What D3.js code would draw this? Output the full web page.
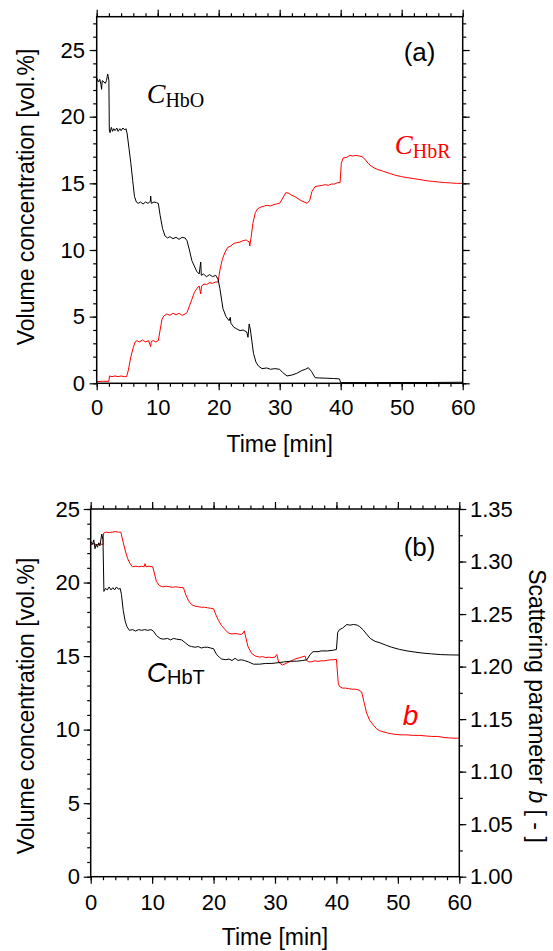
<!DOCTYPE html>
<html>
<head>
<meta charset="utf-8">
<script src="https://cdn.jsdelivr.net/npm/d3@7"></script>
<style>
body { margin: 0; background: #fff; }
text { font-family: "Liberation Sans", Arial, sans-serif; }
text.serif { font-family: "Liberation Serif", "Times New Roman", serif; }
</style>
</head>
<body>
<div id="main"></div>
<script>
// values: [time (min), value]
var cHbO = [[0,22.9],[0.3,22.6],[0.5,22.8],[0.7,22.4],[0.8,22.05],[0.9,22.7],[1.2,22.6],[1.4,22.5],[1.6,22.7],[1.8,23.2],[1.9,23.0],[2.0,22.7],
  [2.07,19.0],[2.2,18.8],[2.4,19.2],[2.6,18.9],[2.8,19.1],[3.0,18.95],[3.3,19.15],[3.5,18.9],[3.8,19.1],[4.0,18.95],[4.3,19.15],[4.6,19.0],[4.8,19.1],
  [5.0,18.7],[5.3,17.6],[5.6,16.5],[5.9,15.2],[6.2,14.0],[6.5,13.6],[6.8,13.5],[7.2,13.6],[7.6,13.45],[8.0,13.6],[8.4,13.5],[8.8,13.65],[8.85,14.05],[8.95,13.5],
  [9.4,13.6],[9.8,13.55],[10.1,13.5],[10.4,12.6],[10.8,11.6],[11.2,11.05],[11.6,10.9],[12.0,11.0],[12.5,10.85],[13.0,10.95],[13.5,10.8],[14.0,10.95],[14.5,10.9],
  [14.8,10.7],[15.2,10.0],[15.6,9.2],[16.0,8.8],[16.4,8.4],[16.8,8.2],[17.05,9.1],[17.15,8.1],[17.5,8.2],[18.0,8.0],[18.5,8.15],[19.0,8.0],[19.5,8.1],[19.9,7.8],
  [20.2,7.1],[20.7,5.6],[21.2,5.0],[21.7,4.7],[21.9,4.95],[22.0,4.5],[22.5,4.2],[22.9,4.1],[23.5,3.95],[24.0,4.0],[24.6,3.85],[24.8,3.45],[25.0,4.45],[25.2,4.0],
  [25.7,2.25],[26.1,1.6],[26.5,1.3],[27.1,1.1],[27.9,1.15],[28.5,1.05],[29.2,1.1],[30.0,1.05],[30.5,0.8],[31.2,0.55],[32.0,0.62],[32.8,0.75],[33.6,0.95],
  [34.2,1.05],[34.7,1.17],[35.2,0.9],[35.8,0.42],[36.5,0.4],[37.7,0.38],[38.8,0.36],[39.8,0.33],[40.0,0.05],[45,0.05],[50,0.06],[55,0.06],[60,0.08]];

var cHbR = [[0,0.12],[1.0,0.15],[2.0,0.15],[2.1,0.55],[2.5,0.5],[3.0,0.55],[3.5,0.5],[4.0,0.55],[4.5,0.5],[4.9,0.5],
  [5.2,1.0],[5.6,2.0],[6.0,2.7],[6.3,3.1],[6.6,3.2],[7.0,3.1],[7.5,3.25],[8.0,3.1],[8.5,3.2],[8.85,2.75],[8.95,3.15],[9.3,3.2],[9.7,3.1],[10.1,3.2],
  [10.4,4.0],[10.7,4.8],[11.0,5.05],[11.5,5.2],[12.0,5.1],[12.5,5.25],[13.0,5.15],[13.5,5.25],[14.0,5.1],[14.5,5.2],[14.8,5.3],
  [15.2,5.8],[15.6,6.3],[16.0,6.8],[16.4,7.1],[16.8,7.3],[17.05,6.7],[17.2,7.3],[17.6,7.45],[18.0,7.4],[18.5,7.55],[19.0,7.5],[19.5,7.6],[19.9,7.6],
  [20.2,8.5],[20.6,9.3],[21.0,9.8],[21.5,10.2],[22.0,10.3],[22.5,10.5],[23.0,10.55],[23.5,10.6],[24.0,10.7],[24.5,10.75],[25.0,10.6],[25.1,10.3],
  [25.3,10.9],[25.6,12.0],[26.0,12.8],[26.4,13.1],[26.8,13.2],[27.5,13.3],[28.0,13.35],[28.5,13.3],[29.0,13.4],[29.5,13.45],[30.0,13.5],
  [30.5,13.9],[31.0,14.3],[31.5,14.25],[32.0,14.1],[32.5,14.0],[33.0,13.85],[33.5,13.7],[34.0,13.6],[34.5,13.5],[34.9,13.7],[35.3,14.4],[35.8,14.75],
  [36.3,14.8],[37.0,14.85],[37.5,14.9],[38.0,14.85],[38.5,14.95],[39.0,14.95],[39.5,15.05],[39.9,15.05],[40.1,16.5],[40.4,16.9],[41.0,16.95],
  [41.5,17.1],[42.0,17.05],[42.5,17.1],[43.0,17.05],[43.5,17.0],[44.0,16.8],[44.5,16.5],[45.0,16.3],[45.5,16.15],[46.0,16.05],[47.0,15.9],
  [48.0,15.75],[49.0,15.6],[50.0,15.5],[51.0,15.42],[52.0,15.35],[53.0,15.28],[54.0,15.2],[55.0,15.15],[56.0,15.1],[57.0,15.06],[58.0,15.03],[59.0,15.0],[60.0,15.0]];

var cHbT = [[0,22.8],[0.3,22.6],[0.5,22.9],[0.7,22.3],[0.9,22.6],[1.1,22.4],[1.3,22.7],[1.5,22.5],[1.8,23.3],[2.0,22.9],
  [2.15,19.4],[2.4,19.6],[2.7,19.5],[3.0,19.7],[3.3,19.5],[3.6,19.65],[3.9,19.5],[4.2,19.7],[4.5,19.55],[4.8,19.6],
  [5.0,19.2],[5.3,18.1],[5.6,17.4],[5.9,17.0],[6.3,16.75],[6.8,16.8],[7.3,16.7],[7.8,16.8],[8.3,16.75],[8.8,16.8],[9.3,16.75],[9.8,16.8],[10.2,16.7],
  [10.7,16.4],[11.3,16.2],[11.8,16.15],[12.5,16.2],[13.0,16.1],[13.5,16.2],[14.0,16.15],[14.8,16.1],[15.4,15.9],[16.0,15.7],[16.4,15.65],
  [17.0,15.6],[17.5,15.65],[18.0,15.55],[18.5,15.6],[19.0,15.6],[19.5,15.55],[20.0,15.5],[20.5,15.1],[21.0,14.9],[21.3,14.8],[22.0,14.75],
  [22.5,14.8],[23.0,14.7],[23.5,14.85],[24.0,14.7],[24.5,14.75],[25.0,14.7],[25.7,14.6],[26.5,14.45],[27.5,14.45],[28.5,14.5],[29.5,14.5],
  [30.5,14.55],[31.4,14.6],[32.5,14.65],[33.5,14.65],[34.5,14.7],[35.2,14.75],[35.7,15.1],[36.2,15.3],[37.0,15.3],[37.5,15.35],[38.5,15.35],
  [39.5,15.4],[40.0,15.45],[40.2,16.6],[40.5,16.8],[41.0,16.9],[41.7,17.15],[42.2,17.1],[42.8,17.15],[43.4,17.1],[43.8,17.0],[44.3,16.8],
  [44.9,16.5],[45.5,16.2],[46.3,16.0],[47.1,15.9],[48.0,15.75],[49.0,15.6],[50.3,15.45],[51.5,15.35],[52.8,15.27],[54.1,15.2],[55.5,15.15],
  [57.0,15.1],[58.5,15.08],[60.0,15.07]];

var bParam = [[0,1.316],[0.5,1.317],[1.0,1.316],[1.5,1.317],[2.0,1.316],[2.1,1.327],[2.5,1.328],[3.0,1.3275],[3.5,1.328],[4.0,1.3285],[4.5,1.328],[4.9,1.328],
  [5.3,1.318],[5.6,1.311],[6.0,1.303],[6.4,1.298],[6.8,1.295],[7.3,1.2955],[7.8,1.295],[8.3,1.2955],[8.7,1.295],[8.85,1.298],[9.0,1.295],[9.5,1.2955],[10.1,1.295],
  [10.7,1.281],[11.2,1.277],[11.7,1.276],[12.3,1.2765],[12.8,1.276],[13.3,1.2755],[13.8,1.276],[14.3,1.2755],[15.1,1.275],
  [15.5,1.268],[15.9,1.263],[16.4,1.259],[17.0,1.2575],[17.5,1.257],[18.0,1.2565],[18.5,1.2565],[19.0,1.256],[19.5,1.2555],[20.0,1.255],
  [20.4,1.249],[20.8,1.244],[21.3,1.239],[21.9,1.235],[22.4,1.232],[23.0,1.231],[23.5,1.2315],[24.0,1.231],[24.5,1.2305],[24.8,1.232],[25.0,1.234],
  [25.2,1.229],[25.6,1.219],[26.2,1.2126],[26.8,1.21],[27.5,1.209],[28.0,1.2095],[28.5,1.2085],[29.0,1.209],[29.5,1.2085],[30.0,1.209],
  [30.3,1.2115],[30.6,1.204],[31.2,1.2015],[31.8,1.203],[32.5,1.205],[33.2,1.207],[34.0,1.2085],[34.9,1.21],[35.1,1.206],[35.5,1.2045],
  [35.9,1.2045],[36.5,1.2055],[37.0,1.205],[37.5,1.2055],[38.0,1.2055],[38.5,1.206],[39.0,1.2065],[39.5,1.2065],[40.0,1.207],
  [40.3,1.184],[40.5,1.181],[41.0,1.1795],[41.5,1.1795],[42.0,1.179],[42.5,1.1785],[43.0,1.1785],[43.5,1.178],[44.1,1.176],
  [44.5,1.166],[44.9,1.156],[45.4,1.149],[46.0,1.1444],[46.5,1.141],[47.0,1.139],[47.6,1.138],[48.5,1.1365],[49.5,1.1355],[50.5,1.135],
  [51.5,1.135],[52.5,1.1345],[53.5,1.1345],[54.5,1.134],[55.5,1.1335],[56.5,1.1335],[57.5,1.1325],[58.5,1.132],[59.5,1.1318],[60,1.132]];

var timeTicks = [0, 10, 20, 30, 40, 50, 60];
var concTicks = [0, 5, 10, 15, 20, 25];
var bTicks = [1.00, 1.05, 1.10, 1.15, 1.20, 1.25, 1.30, 1.35];

var W = 553, H = 951;
var FONT = "Liberation Sans, Arial, sans-serif";

var svg = d3.select("#main").append("svg").attr("width", W).attr("height", H);

// panel boxes
var pa = { x: 96.7, y: 16.7, w: 366, h: 366.6 };
var pb = { x: 90.7, y: 509, w: 368.6, h: 367.7 };

var styleAxis = function(g) {
    g.attr("font-size", 22).attr("font-family", FONT);
    g.select(".domain").remove();
    g.selectAll("line").attr("stroke", "#000").attr("stroke-width", 1.2);
    g.selectAll("text").attr("fill", "#000");
};

var drawAxes = function(g, p, x, y, yR, o) {
    // major + minor ticks on all four sides, all pointing outward
    g.append("g").attr("transform", "translate(0," + p.h + ")")
        .call(d3.axisBottom(x).tickValues(d3.range(0, 61, 2)).tickSize(3.5).tickFormat(""))
        .call(styleAxis);
    g.append("g").attr("transform", "translate(0," + p.h + ")")
        .call(d3.axisBottom(x).tickValues(timeTicks).tickSize(7).tickPadding(o.xPad))
        .call(styleAxis);
    g.append("g")
        .call(d3.axisTop(x).tickValues(d3.range(0, 61, 2)).tickSize(3.5).tickFormat(""))
        .call(styleAxis);
    g.append("g")
        .call(d3.axisTop(x).tickValues(timeTicks).tickSize(7).tickFormat(""))
        .call(styleAxis);
    g.append("g")
        .call(d3.axisLeft(y).tickValues(d3.range(0, y.domain()[1] + 0.01, 1)).tickSize(3.5).tickFormat(""))
        .call(styleAxis);
    g.append("g")
        .call(d3.axisLeft(y).tickValues(concTicks).tickSize(7).tickPadding(o.yPad).tickFormat(d3.format("d")))
        .call(styleAxis);
    var rg = g.append("g").attr("transform", "translate(" + p.w + ",0)");
    if (yR) {
        rg.append("g").call(d3.axisRight(yR).tickValues(d3.range(1, 1.351, 0.025)).tickSize(3.5).tickFormat("")).call(styleAxis);
        rg.append("g").call(d3.axisRight(yR).tickValues(bTicks).tickSize(7).tickPadding(o.rPad).tickFormat(d3.format(".2f"))).call(styleAxis);
    } else {
        rg.append("g").call(d3.axisRight(y).tickValues(d3.range(0, y.domain()[1] + 0.01, 1)).tickSize(3.5).tickFormat("")).call(styleAxis);
        rg.append("g").call(d3.axisRight(y).tickValues(concTicks).tickSize(7).tickFormat("")).call(styleAxis);
    }
    g.append("rect").attr("width", p.w).attr("height", p.h)
        .attr("fill", "none").attr("stroke", "#000").attr("stroke-width", 1.5);
};

var drawLine = function(g, data, x, y, color) {
    g.append("path").datum(data)
        .attr("fill", "none").attr("stroke", color).attr("stroke-width", 1)
        .attr("stroke-linejoin", "round")
        .attr("d", d3.line().x(function(d) { return x(d[0]); }).y(function(d) { return y(d[1]); }));
};

// ---------- panel (a)
var ga = svg.append("g").attr("transform", "translate(" + pa.x + "," + pa.y + ")");
var xa = d3.scaleLinear().domain([0, 60]).range([0, pa.w]);
var ya = d3.scaleLinear().domain([0, 27.5]).range([pa.h, 0]);
drawLine(ga, cHbR, xa, ya, "#ff0000");
drawLine(ga, cHbO, xa, ya, "#000");
drawAxes(ga, pa, xa, ya, null, { xPad: 9, yPad: 4.7 });

ga.append("text").attr("x", 307).attr("y", 44).attr("font-size", 26).text("(a)");
var lo = ga.append("text").attr("class", "serif").attr("x", 50).attr("y", 86.5);
lo.append("tspan").attr("font-style", "italic").attr("font-size", 28).text("C");
lo.append("tspan").attr("font-size", 20).attr("dy", 4).text("HbO");
var lr = ga.append("text").attr("class", "serif").attr("x", 298).attr("y", 137.5).attr("fill", "#ff0000");
lr.append("tspan").attr("font-style", "italic").attr("font-size", 27).text("C");
lr.append("tspan").attr("font-size", 20).attr("dy", 4).text("HbR");

svg.append("text").attr("x", pa.x + pa.w / 2).attr("y", 452).attr("text-anchor", "middle")
    .attr("font-size", 23).text("Time [min]");
svg.append("text").attr("transform", "translate(26,197) rotate(-90)").attr("text-anchor", "middle")
    .attr("dy", "0.35em").attr("font-size", 23).text("Volume concentration [vol.%]");

// ---------- panel (b)
var gb = svg.append("g").attr("transform", "translate(" + pb.x + "," + pb.y + ")");
var xb = d3.scaleLinear().domain([0, 60]).range([0, pb.w]);
var yb = d3.scaleLinear().domain([0, 25]).range([pb.h, 0]);
var yr = d3.scaleLinear().domain([1.0, 1.35]).range([pb.h, 0]);
drawLine(gb, bParam, xb, yr, "#ff0000");
drawLine(gb, cHbT, xb, yb, "#000");
drawAxes(gb, pb, xb, yb, yr, { xPad: 10.7, yPad: 3.7, rPad: 3.7 });

gb.append("text").attr("x", 313).attr("y", 47).attr("font-size", 26).text("(b)");
var lt = gb.append("text").attr("x", 56).attr("y", 173);
lt.append("tspan").attr("font-style", "italic").attr("font-size", 28).text("C");
lt.append("tspan").attr("font-size", 20).attr("dy", 2).text("HbT");
gb.append("text").attr("x", 312).attr("y", 216).attr("fill", "#ff0000")
    .attr("font-style", "italic").attr("font-size", 28).text("b");

svg.append("text").attr("x", pb.x + pb.w / 2).attr("y", 945).attr("text-anchor", "middle")
    .attr("font-size", 23).text("Time [min]");
svg.append("text").attr("transform", "translate(26,706) rotate(-90)").attr("text-anchor", "middle")
    .attr("dy", "0.35em").attr("font-size", 23).text("Volume concentration [vol.%]");
var rt = svg.append("text").attr("transform", "translate(537,706) rotate(90)").attr("text-anchor", "middle")
    .attr("dy", "0.35em").attr("font-size", 23);
rt.append("tspan").text("Scattering parameter ");
rt.append("tspan").attr("font-style", "italic").text("b");
rt.append("tspan").text(" [ - ]");
</script>
</body>
</html>
